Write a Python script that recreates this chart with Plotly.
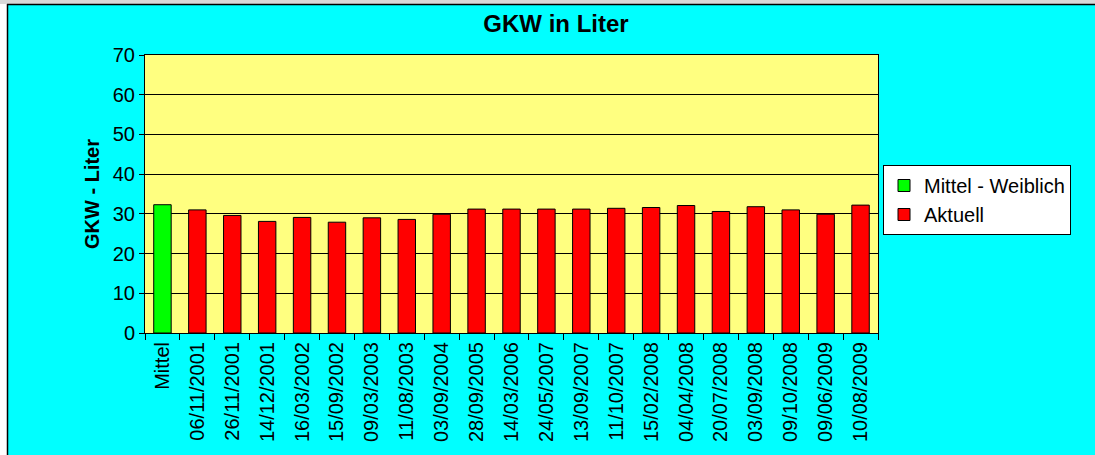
import plotly.graph_objects as go

categories = ["Mittel", "06/11/2001", "26/11/2001", "14/12/2001", "16/03/2002", "15/09/2002",
              "09/03/2003", "11/08/2003", "03/09/2004", "28/09/2005", "14/03/2006", "24/05/2007",
              "13/09/2007", "11/10/2007", "15/02/2008", "04/04/2008", "20/07/2008", "03/09/2008",
              "09/10/2008", "09/06/2009", "10/08/2009"]
mittel_cat = ["Mittel"]
mittel_val = [32.3]
aktuell_cat = categories[1:]
aktuell_val = [31.0, 29.6, 28.1, 29.1, 27.9, 29.0, 28.6, 29.9, 31.2, 31.2, 31.2, 31.2,
               31.4, 31.6, 32.1, 30.6, 31.8, 31.0, 29.9, 32.2]
y_ticks = [0, 10, 20, 30, 40, 50, 60, 70]

FONT = "Liberation Sans, Arial, sans-serif"

W, H = 1095, 455
L, R, T, B = 145, 878, 55, 333

def px_x(p):
    return (p - L) / (R - L)

def px_y(p):
    return 1 - (p - T) / (B - T)

fig = go.Figure()
fig.add_trace(go.Bar(x=mittel_cat, y=mittel_val, name="Mittel - Weiblich",
                     marker=dict(color="#00FF00", line=dict(color="black", width=1)),
                     width=0.5))
fig.add_trace(go.Bar(x=aktuell_cat, y=aktuell_val, name="Aktuell",
                     marker=dict(color="#FF0000", line=dict(color="black", width=1)),
                     width=0.5))

fig.update_layout(
    width=W, height=H,
    margin=dict(l=L, r=W - R, t=T, b=H - B, pad=0),
    paper_bgcolor="#00FFFF",
    plot_bgcolor="#FFFF80",
    barmode="overlay",
    font=dict(family=FONT, size=20, color="black"),
    title=dict(text="<b>GKW in Liter</b>", x=556 / W, xref="container", xanchor="center",
               y=1 - 24 / H, yref="container", yanchor="middle",
               font=dict(family=FONT, size=24, color="black")),
    showlegend=True,
    legend=dict(x=px_x(883), y=px_y(165), xanchor="left", yanchor="top",
                bgcolor="white", bordercolor="black", borderwidth=1,
                font=dict(family=FONT, size=20, color="black"),
                itemwidth=30, tracegroupgap=0),
    xaxis=dict(type="category", categoryorder="array", categoryarray=categories,
               tickangle=-90, ticks="outside", ticklen=6, tickcolor="black",
               tickson="boundaries", showline=True, linecolor="black", linewidth=1,
               mirror=True, showgrid=False,
               tickfont=dict(family=FONT, size=20, color="black")),
    yaxis=dict(range=[0, 70], tickvals=y_ticks, ticks="outside", ticklen=5,
               tickcolor="black", showline=True, linecolor="black", linewidth=1,
               mirror=True, showgrid=True, gridcolor="black", gridwidth=1,
               zeroline=False, tickfont=dict(family=FONT, size=20, color="black")),
)

fig.add_annotation(text="<b>GKW - Liter</b>", xref="paper", yref="paper",
                   x=px_x(92), y=0.5, xanchor="center", yanchor="middle",
                   textangle=-90, showarrow=False,
                   font=dict(family=FONT, size=20, color="black"))

# outer white edge and black frame (left / top)
fig.add_shape(type="rect", xref="paper", yref="paper", x0=px_x(-5), x1=px_x(7),
              y0=px_y(H + 5), y1=px_y(-5), fillcolor="white", line=dict(width=0), layer="below")
fig.add_shape(type="rect", xref="paper", yref="paper", x0=px_x(-5), x1=px_x(W + 5),
              y0=px_y(4), y1=px_y(-5), fillcolor="#d8d8d8", line=dict(width=0), layer="below")
fig.add_shape(type="line", xref="paper", yref="paper", x0=px_x(7.5), x1=px_x(7.5),
              y0=px_y(4), y1=px_y(H + 5), line=dict(color="black", width=1.5))
fig.add_shape(type="line", xref="paper", yref="paper", x0=px_x(7), x1=px_x(W + 5),
              y0=px_y(4.5), y1=px_y(4.5), line=dict(color="black", width=1.5))

fig.write_html("out.html", config={"displayModeBar": False},
               post_script="document.body.style.margin='0';document.body.style.overflow='hidden';")
